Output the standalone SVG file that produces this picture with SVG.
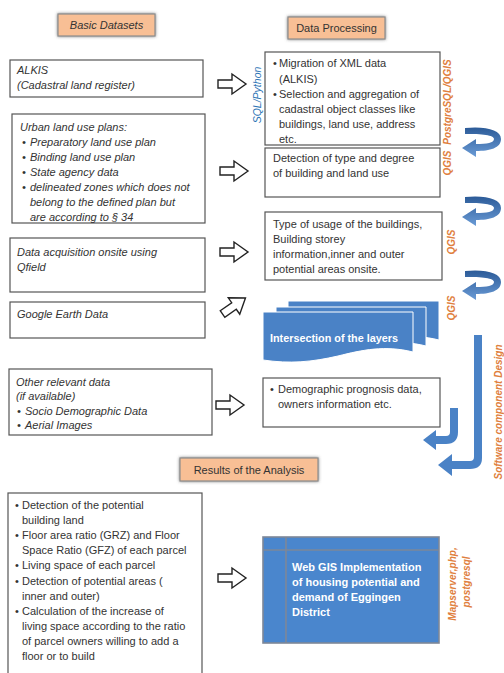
<svg xmlns="http://www.w3.org/2000/svg" width="504" height="673" viewBox="0 0 504 673">
<defs>
<style>
.box{fill:#fff;stroke:#555;stroke-width:1.2}
.hdr{fill:#F8BF95;stroke:#8c8c8c;stroke-width:1.2}
.t{font-family:"Liberation Sans",Arial,sans-serif;font-size:11px;fill:#333}
.ti{font-family:"Liberation Sans",Arial,sans-serif;font-size:11px;font-style:italic;fill:#333}
.tw{font-family:"Liberation Sans",Arial,sans-serif;font-size:11px;font-weight:bold;fill:#fff}
.lo{font-family:"Liberation Sans",Arial,sans-serif;font-size:10px;font-style:italic;font-weight:bold;fill:#E0803E}
.lb{font-family:"Liberation Sans",Arial,sans-serif;font-size:10.5px;font-style:italic;fill:#2E75B6}
.harrow{fill:#fff;stroke:#222;stroke-width:1.4;stroke-linejoin:miter}
.blue{fill:#4A82C6}
.doc{fill:#4A82C6;stroke:#fff;stroke-width:1}
</style>
<filter id="sh" x="-20%" y="-40%" width="140%" height="180%">
<feDropShadow dx="0" dy="0" stdDeviation="1.6" flood-color="#555" flood-opacity="0.8"/>
</filter>
<linearGradient id="cg" x1="0" y1="0" x2="0" y2="1">
<stop offset="0" stop-color="#2C5B98"/>
<stop offset="1" stop-color="#6A9BD6"/>
</linearGradient>
<path id="curv" d="M3,1 C24,-1 39,3 39,12 C39,21 28,24 14,24 L14,30 L0,21 L14,12 L14,17 C25,17 32,16 32,12 C32,8 20,7 3,7 Z" fill="url(#cg)"/>
<path id="harr" class="harrow" d="M-14,-4 H0 V-10 L14,0 L0,10 V4 H-14 Z"/>
</defs>

<rect width="504" height="673" fill="#fff"/>

<!-- headers -->
<g id="hdr-basic">
<rect class="hdr" x="58" y="14" width="97" height="22" filter="url(#sh)"/>
<text class="ti" x="106.5" y="29" text-anchor="middle">Basic Datasets</text>
</g>
<g id="hdr-processing">
<rect class="hdr" x="288" y="17" width="97" height="22" filter="url(#sh)"/>
<text class="t" x="336.5" y="32" text-anchor="middle">Data Processing</text>
</g>
<g id="hdr-results">
<rect class="hdr" x="180" y="458" width="138" height="23" filter="url(#sh)"/>
<text class="t" x="249" y="473.5" text-anchor="middle">Results of the Analysis</text>
</g>

<!-- left column -->
<g id="alkis">
<rect class="box" x="10" y="60" width="193" height="37"/>
<text class="ti" x="17" y="74">ALKIS</text>
<text class="ti" x="17" y="89">(Cadastral land register)</text>
</g>
<g id="urban">
<rect class="box" x="12" y="114" width="193" height="109"/>
<text class="ti" x="20" y="131">Urban land use plans:</text>
<text class="ti" x="22" y="146">•</text><text class="ti" x="30" y="146">Preparatory land use plan</text>
<text class="ti" x="22" y="161">•</text><text class="ti" x="30" y="161">Binding land use plan</text>
<text class="ti" x="22" y="176">•</text><text class="ti" x="30" y="176">State agency data</text>
<text class="ti" x="22" y="191">•</text><text class="ti" x="30" y="191">delineated zones which does  not</text>
<text class="ti" x="30" y="206">belong to the defined plan but</text>
<text class="ti" x="30" y="221">are according to § 34</text>
</g>
<g id="acquisition">
<rect class="box" x="10" y="238" width="195" height="54"/>
<text class="ti" x="17" y="256">Data acquisition onsite using</text>
<text class="ti" x="17" y="271">Qfield</text>
</g>
<g id="google">
<rect class="box" x="10" y="302" width="195" height="36"/>
<text class="ti" x="17" y="318">Google Earth Data</text>
</g>
<g id="other">
<rect class="box" x="9" y="369" width="203" height="66"/>
<text class="ti" x="16" y="386">Other relevant data</text>
<text class="ti" x="16" y="400">(if available)</text>
<text class="ti" x="17" y="415">•</text><text class="ti" x="25" y="415">Socio Demographic Data</text>
<text class="ti" x="17" y="429">•</text><text class="ti" x="25" y="429">Aerial Images</text>
</g>
<g id="results">
<rect class="box" x="8" y="493" width="194" height="190"/>
<text class="t" x="15" y="509">•</text><text class="t" x="22" y="509">Detection of the potential</text>
<text class="t" x="22" y="524">building land</text>
<text class="t" x="15" y="539">•</text><text class="t" x="22" y="539">Floor area ratio (GRZ) and Floor</text>
<text class="t" x="22" y="554">Space Ratio (GFZ) of each parcel</text>
<text class="t" x="15" y="569">•</text><text class="t" x="22" y="569">Living space of  each parcel</text>
<text class="t" x="15" y="585">•</text><text class="t" x="22" y="585">Detection of potential areas (</text>
<text class="t" x="22" y="600">inner and outer)</text>
<text class="t" x="15" y="615">•</text><text class="t" x="22" y="615">Calculation of the increase of</text>
<text class="t" x="22" y="630">living space according to the ratio</text>
<text class="t" x="22" y="645">of parcel owners willing to add a</text>
<text class="t" x="22" y="660">floor or to build</text>
</g>

<!-- right column -->
<g id="migration">
<rect class="box" x="265" y="52" width="175" height="93"/>
<text class="t" x="273" y="67">•</text><text class="t" x="279" y="67">Migration of  XML data</text>
<text class="t" x="279" y="83">(ALKIS)</text>
<text class="t" x="273" y="98">•</text><text class="t" x="279" y="98">Selection and aggregation of</text>
<text class="t" x="279" y="113">cadastral object classes like</text>
<text class="t" x="279" y="128">buildings, land use, address</text>
<text class="t" x="279" y="143">etc.</text>
</g>
<g id="detection">
<rect class="box" x="265" y="148" width="175" height="49"/>
<text class="t" x="273" y="162">Detection of type and degree</text>
<text class="t" x="273" y="177">of building and land use</text>
</g>
<g id="usage">
<rect class="box" x="265" y="212" width="177" height="68"/>
<text class="t" x="273" y="228">Type of usage of the buildings,</text>
<text class="t" x="273" y="243">Building storey</text>
<text class="t" x="273" y="258">information,inner and outer</text>
<text class="t" x="273" y="273">potential areas onsite.</text>
</g>
<g id="intersection">
<path class="doc" d="M288,301 H439 V340 C411,333 388,338 364,344 C338,350 316,352 288,348 Z"/>
<path class="doc" d="M276,307 H426 V346 C398,339 375,344 351,350 C325,356 303,358 276,354 Z"/>
<path class="doc" d="M263,312 H413 V352 C385,345 362,350 338,356 C312,362 290,364 263,360 Z"/>
<text class="tw" x="270" y="342" font-size="10.5" textLength="128" lengthAdjust="spacingAndGlyphs">Intersection of the layers</text>
</g>
<g id="demographic">
<rect class="box" x="263" y="378" width="177" height="49"/>
<text class="t" x="270" y="393">•</text><text class="t" x="278" y="393">Demographic prognosis data,</text>
<text class="t" x="278" y="408">owners information etc.</text>
</g>
<g id="webgis">
<rect x="263" y="537" width="176" height="106" fill="#4A86CD" stroke="#7d8798" stroke-width="1.6"/>
<line x1="286" y1="537" x2="286" y2="643" stroke="#7d8798" stroke-width="1.6"/>
<line x1="263" y1="550" x2="439" y2="550" stroke="#7d8798" stroke-width="1.6"/>
<text class="tw" x="292" y="571">Web GIS Implementation</text>
<text class="tw" x="292" y="586">of housing potential and</text>
<text class="tw" x="292" y="601">demand of Eggingen</text>
<text class="tw" x="292" y="616">District</text>
</g>

<!-- labels -->
<g id="labels">
<text class="lb" transform="translate(261,95) rotate(-90)" text-anchor="middle">SQL/Python</text>
<text class="lo" transform="translate(451,102) rotate(-90)" text-anchor="middle">PostgreSQL/QGIS</text>
<text class="lo" transform="translate(451,163) rotate(-90)" text-anchor="middle">QGIS</text>
<text class="lo" transform="translate(455,242) rotate(-90)" text-anchor="middle">QGIS</text>
<text class="lo" transform="translate(455,308) rotate(-90)" text-anchor="middle">QGIS</text>
<text class="lo" transform="translate(502,412) rotate(-90)" text-anchor="middle" font-weight="normal" font-size="11.5">Software component Design</text>
<text class="lo" transform="translate(456,584) rotate(-90)" text-anchor="middle" font-size="10.5">Mapserver,php,</text>
<text class="lo" transform="translate(470,582) rotate(-90)" text-anchor="middle" font-size="10.5">postgresql</text>
</g>

<!-- connectors -->
<g id="connectors">
<use href="#harr" transform="translate(232,84)"/>
<use href="#harr" transform="translate(234,171)"/>
<use href="#harr" transform="translate(234,252)"/>
<use href="#harr" transform="translate(234,306) rotate(-35)"/>
<use href="#harr" transform="translate(230,405)"/>
<use href="#harr" transform="translate(232,578)"/>
<use href="#curv" transform="translate(462,127)"/>
<use href="#curv" transform="translate(462,196)"/>
<use href="#curv" transform="translate(462,270)"/>
<path class="blue" d="M474,335 H482 V458 Q482,469 470,469 H452 V476 L438,465 L452,454 V461 H470 Q474,461 474,457 Z"/>
<path class="blue" d="M450,408 H458 V432 Q458,444 446,444 H436 V450 L423,440 L436,430 V436 H446 Q450,436 450,432 Z"/>
</g>
</svg>
